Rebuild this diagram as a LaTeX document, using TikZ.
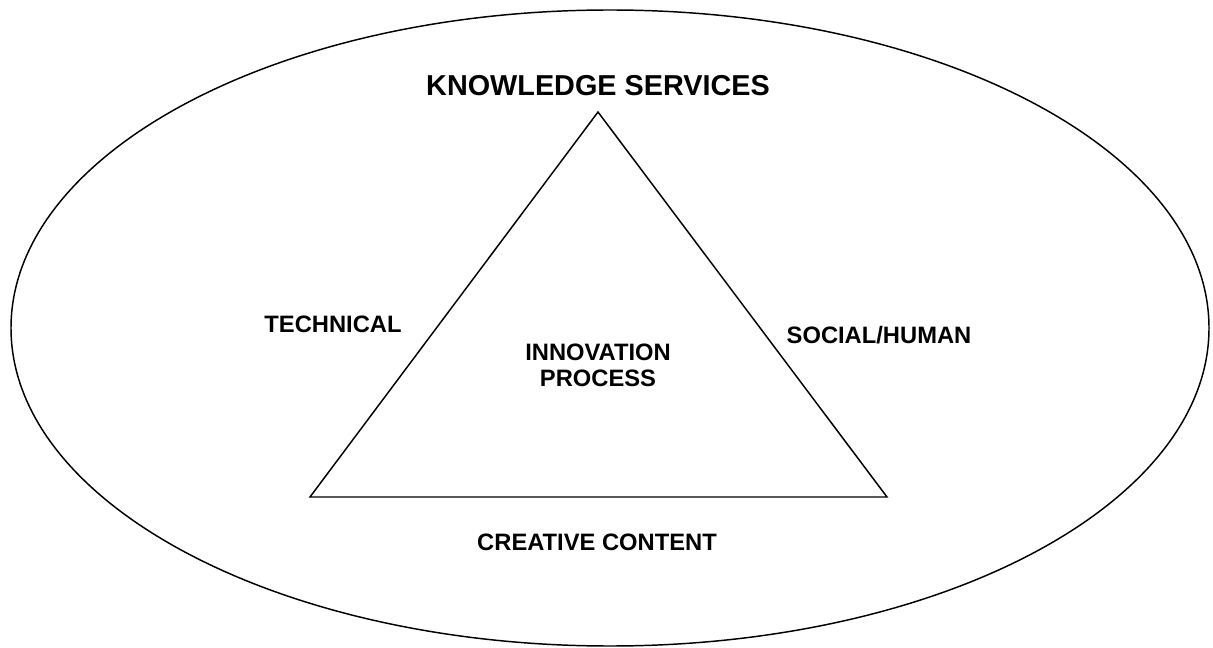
\documentclass[tikz,border=0pt]{standalone}
\usepackage{fontspec}
\setmainfont{Liberation Sans}
\usetikzlibrary{positioning}

\begin{document}
\begin{tikzpicture}[%
    x=0.75pt, y=-0.75pt,        % work in pixels, y going down
    line width=1.1pt,
    ]
\tikzset{
  title/.style={font=\bfseries\fontsize{21.6}{26}\selectfont, inner sep=0pt},
  side/.style={font=\bfseries\fontsize{17.8}{19.5}\selectfont, inner sep=0pt, align=center},
}
\useasboundingbox (0,0) rectangle (1213,648);

% outer field
\draw (610,328) ellipse [x radius=599, y radius=318];

% corners of the triangle
\coordinate (top) at (598,112);
\coordinate (bl) at (310,497);
\coordinate (br) at (887,497);
\draw [line join=miter] (top) -- (bl) -- (br) -- cycle;

\node [title] (ks) at (598,86) {KNOWLEDGE SERVICES};
\node [side] (tech) at (333,324) {TECHNICAL};
\node [side] (soc) at (879,335) {SOCIAL/HUMAN};
\node [side] (inno) at (598,365) {INNOVATION\\PROCESS};
\node [side] (cc) at (597,542) {CREATIVE CONTENT};

\end{tikzpicture}
\end{document}
